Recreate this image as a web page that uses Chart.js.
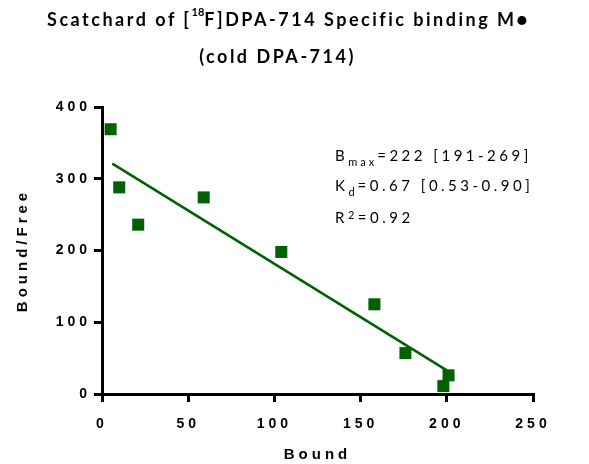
<!DOCTYPE html>
<html>
<head>
<meta charset="utf-8">
<script src="https://cdn.jsdelivr.net/npm/chart.js@4"></script>
<style>
  html, body { margin: 0; padding: 0; background: #fff; }
  #wrap { position: relative; width: 589px; height: 464px; }
  #chart { position: absolute; left: 0; top: 0; }
  .title {
    position: absolute; left: 0; width: 589px; text-align: center;
    font-family: Lato, sans-serif; font-weight: bold; font-size: 18px;
    letter-spacing: 2.5px; color: #000; white-space: nowrap;
  }
  .title sup { font-size: 11px; letter-spacing: 0; vertical-align: 10px; line-height: 0; }
  .note {
    position: absolute; left: 335px; font-family: Lato, sans-serif;
    font-size: 15px; letter-spacing: 3.5px; color: #000; white-space: nowrap;
  }
  .note sub { font-size: 11px; letter-spacing: 3px; vertical-align: -5px; line-height: 0; }
  .note sup { font-size: 11px; vertical-align: 4px; line-height: 0; }
</style>
</head>
<body>
<div id="wrap">
  <canvas id="chart" width="589" height="464"></canvas>
  <div class="title" style="top:8px; left:-6px;">Scatchard of [<sup>18</sup>F]DPA-714 Specific binding M&#9679;</div>
  <div class="title" style="top:45px; left:-17px;">(cold DPA-714)</div>
  <div class="note" style="top:146px;">B<sub>max</sub>=222 [191-269]</div>
  <div class="note" style="top:176px;">K<sub>d</sub>=0.67 [0.53-0.90]</div>
  <div class="note" style="top:208px;">R<sup>2</sup>=0.92</div>
</div>
<script>
document.addEventListener('DOMContentLoaded', () => {
    // Scatchard points: bound vs bound/free
    const bound = [5, 10, 21, 59, 104, 158, 176, 198, 201];
    const boundFree = [369, 288, 236, 274, 198, 125, 57, 11, 26];

    // linear fit drawn across the measured range
    const fitBound = [6, 200];
    const fitBoundFree = [321, 33];

    const xTicks = [0, 50, 100, 150, 200, 250];
    const yTicks = [0, 100, 200, 300, 400];

    const green = '#006100';

    // wide tracking on all canvas text (ticks and axis titles)
    const spacing = {
        id: 'spacing',
        beforeUpdate(chart) { chart.ctx.letterSpacing = '4px'; },
        beforeDraw(chart) { chart.ctx.letterSpacing = '4px'; }
    };

    const axisFont = { family: 'Liberation Sans, Arial, sans-serif', weight: 'bold', size: 14 };
    const titleFont = { family: 'Liberation Sans, Arial, sans-serif', weight: 'bold', size: 15 };

    new Chart(document.getElementById('chart'), {
        type: 'scatter',
        data: {
            datasets: [
                {
                    label: 'fit',
                    type: 'line',
                    data: fitBound.map((x, i) => ({ x, y: fitBoundFree[i] })),
                    borderColor: green,
                    borderWidth: 2.5,
                    pointRadius: 0,
                    fill: false
                },
                {
                    label: 'Specific binding',
                    data: bound.map((x, i) => ({ x, y: boundFree[i] })),
                    pointStyle: 'rect',
                    pointRadius: 8.5,
                    pointHoverRadius: 8.5,
                    backgroundColor: green,
                    borderWidth: 0
                }
            ]
        },
        options: {
            responsive: false,
            animation: false,
            layout: { padding: { top: 107, right: 56, left: 0, bottom: 0 } },
            plugins: { legend: { display: false }, tooltip: { enabled: false } },
            scales: {
                x: {
                    type: 'linear',
                    min: 0, max: 250,
                    afterBuildTicks: s => { s.ticks = xTicks.map(v => ({ value: v })); },
                    afterFit: s => { s.height = 70; },
                    border: { color: '#000', width: 3 },
                    grid: { drawOnChartArea: false, color: '#000', lineWidth: 3, tickLength: 8 },
                    ticks: { color: '#000', font: axisFont, padding: 14, maxRotation: 0 },
                    title: { display: true, text: 'Bound', color: '#000', font: titleFont, padding: { top: 8, bottom: 0 } }
                },
                y: {
                    type: 'linear',
                    min: 0, max: 400,
                    afterBuildTicks: s => { s.ticks = yTicks.map(v => ({ value: v })); },
                    afterFit: s => { s.width = 102; },
                    border: { color: '#000', width: 3 },
                    grid: { drawOnChartArea: false, color: '#000', lineWidth: 3, tickLength: 8 },
                    ticks: { color: '#000', font: axisFont, padding: 3 },
                    title: { display: true, text: 'Bound/Free', color: '#000', font: titleFont, padding: { top: 14, bottom: 0 } }
                }
            }
        },
        plugins: [spacing]
    });
});
</script>
</body>
</html>
